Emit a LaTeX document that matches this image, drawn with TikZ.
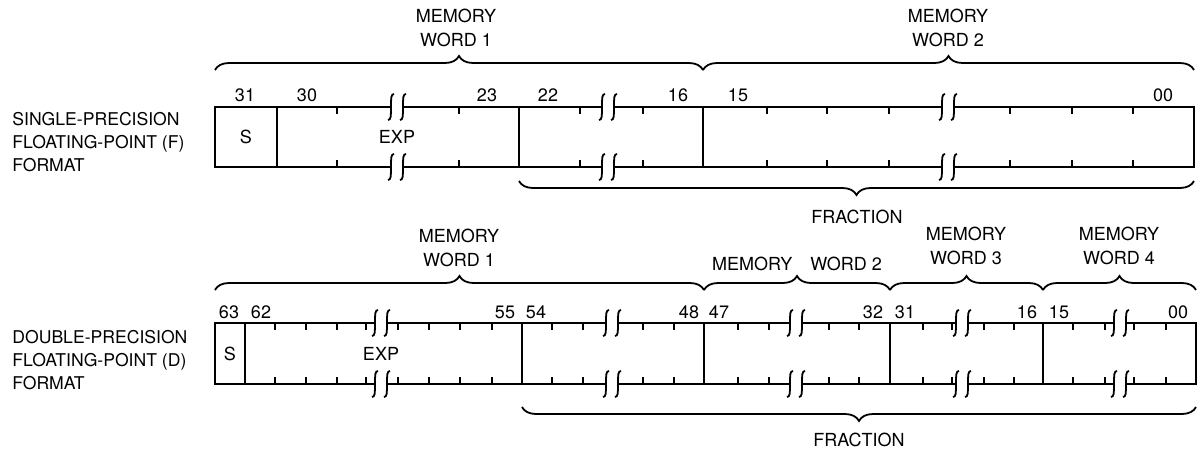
\documentclass[tikz,border=0pt]{standalone}
\usepackage{fontspec}
\setmainfont{TeX Gyre Heros}
\usetikzlibrary{decorations.pathreplacing}

\tikzset{
    lbl/.style={font=\fontsize{9}{10}\selectfont, inner sep=0pt},
    fmt/.style={inner sep=0pt, anchor=west, align=left, font=\fontsize{8.8}{11.5}\selectfont},
    outline/.style={line width=1.4pt},
    divider/.style={line width=1.1pt},
    tick/.style={line width=0.9pt},
    brc/.style={decorate, decoration={brace, amplitude=7pt}, line width=0.9pt},
    brcdown/.style={brc, decoration={brace, amplitude=7pt, mirror}},
    brk/.pic={
        \fill[white] (-6,-2) rectangle (6,2);
        \draw[line width=0.9pt] (-3,-13) .. controls (-6,-13) and (-6,-9) .. (-6,0)
            .. controls (-6,9) and (-6,13) .. (-9,13);
        \draw[line width=0.9pt] (9,-13) .. controls (6,-13) and (6,-9) .. (6,0)
            .. controls (6,9) and (6,13) .. (3,13);
    }
}

\begin{document}
\begin{tikzpicture}[x=0.5pt,y=-0.5pt]
    \useasboundingbox (0,0) rectangle (1201,455);

    % single precision
    \node[fmt] (fname) at (12,142) {SINGLE-PRECISION\\FLOATING-POINT (F)\\FORMAT};
    \draw[outline] (215,107) rectangle (1194,167);
    \foreach \x in {277,519,703}
        \draw[divider] (\x,107) -- (\x,167);
    \foreach \x in {337,459,580,643,767,827,889,1010,1072,1133}
    {
        \draw[tick] (\x,107) -- (\x,114);
        \draw[tick] (\x,167) -- (\x,160);
    }
    \foreach \x in {397,608,948}
    {
        \pic at (\x,107) {brk};
        \pic at (\x,167) {brk};
    }
    \node[lbl] (fs) at (246,137) {S};
    \node[lbl] (fexp) at (397,137) {EXP};
    \foreach \x/\b in {245/31,307/30,487/23,548/22,678/16,738/15,1163/00}
        \node[lbl] (fbit\b) at (\x,95) {\b};

    \coordinate (fw0) at (215,70);
    \coordinate (fw1) at (703,70);
    \coordinate (fw2) at (1194,70);
    \draw[brc] (fw0) -- (fw1);
    \draw[brc] (fw1) -- (fw2);
    \node[lbl, align=center] (fword1) at (456,28) {MEMORY\\[2pt]WORD 1};
    \node[lbl, align=center] (fword2) at (948,28) {MEMORY\\[2pt]WORD 2};

    \coordinate (ff0) at (519,181);
    \coordinate (ff1) at (1194,181);
    \draw[brcdown] (ff0) -- (ff1);
    \node[lbl] (ffrac) at (857,217) {FRACTION};

    % double precision
    \node[fmt] (dname) at (12,360) {DOUBLE-PRECISION\\FLOATING-POINT (D)\\FORMAT};
    \draw[outline] (215,323) rectangle (1196,384);
    \foreach \x in {245,522,704,890,1043}
        \draw[divider] (\x,323) -- (\x,384);
    \foreach \x in {275,306,337,366,398,429,460,492,552,583,643,674,738,769,829,859,923,952,984,1014,1073,1105,1134,1166}
    {
        \draw[tick] (\x,323) -- (\x,330);
        \draw[tick] (\x,384) -- (\x,377);
    }
    \foreach \x in {381,612,796,962,1120}
    {
        \pic at (\x,323) {brk};
        \pic at (\x,384) {brk};
    }
    \node[lbl] (ds) at (230,354) {S};
    \node[lbl] (dexp) at (381,354) {EXP};
    \foreach \x/\b in {229/63,261/62,505/55,536/54,689/48,719/47,873/32,905/31,1027/16,1059/15,1178/00}
        \node[lbl] (dbit\b) at (\x,312) {\b};

    \coordinate (dw0) at (215,290);
    \coordinate (dw1) at (704,290);
    \coordinate (dw2) at (890,290);
    \coordinate (dw3) at (1043,290);
    \coordinate (dw4) at (1196,290);
    \draw[brc] (dw0) -- (dw1);
    \draw[brc] (dw1) -- (dw2);
    \draw[brc] (dw2) -- (dw3);
    \draw[brc] (dw3) -- (dw4);
    \node[lbl, align=center] (dword1) at (459,248) {MEMORY\\[2pt]WORD 1};
    \node[lbl] (dword2) at (797,264) {MEMORY\quad WORD 2};
    \node[lbl, align=center] (dword3) at (966,246) {MEMORY\\[2pt]WORD 3};
    \node[lbl, align=center] (dword4) at (1119,246) {MEMORY\\[2pt]WORD 4};

    \coordinate (df0) at (522,407);
    \coordinate (df1) at (1196,407);
    \draw[brcdown] (df0) -- (df1);
    \node[lbl] (dfrac) at (859,440) {FRACTION};

\end{tikzpicture}
\end{document}
